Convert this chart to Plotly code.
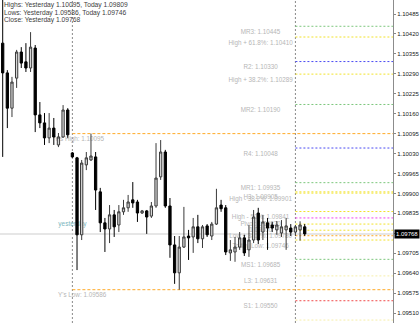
import plotly.graph_objects as go

# ---------------- data ----------------
opens = [1.10390, 1.10293, 1.10178, 1.10276, 1.10361, 1.10329, 1.10309, 1.10374, 1.10156, 1.10130,
         1.10081, 1.10113, 1.10058, 1.10084, 1.10172, 1.10032, 1.10016, 1.09765, 1.09993, 1.10009,
         1.10019, 1.09905, 1.09804, 1.09784, 1.09830, 1.09797, 1.09840, 1.09853, 1.09879, 1.09872,
         1.09836, 1.09843, 1.09826, 1.09859, 1.09954, 1.10035, 1.09859, 1.09732, 1.09641, 1.09725,
         1.09761, 1.09758, 1.09791, 1.09752, 1.09794, 1.09761, 1.09800, 1.09862, 1.09853, 1.09706,
         1.09709, 1.09725, 1.09755, 1.09716, 1.09748, 1.09836, 1.09774, 1.09804, 1.09797, 1.09781,
         1.09771, 1.09781, 1.09787, 1.09774, 1.09781, 1.09791]
highs = [1.10563, 1.10302, 1.10280, 1.10368, 1.10377, 1.10390, 1.10426, 1.10384, 1.10198, 1.10162,
         1.10162, 1.10146, 1.10097, 1.10188, 1.10178, 1.10035, 1.10019, 1.10009, 1.10035, 1.10095,
         1.10035, 1.09918, 1.09820, 1.09862, 1.09846, 1.09862, 1.09879, 1.09895, 1.09937, 1.09879,
         1.09846, 1.09846, 1.09872, 1.10064, 1.10074, 1.10042, 1.09885, 1.09761, 1.09761, 1.09856,
         1.09781, 1.09820, 1.09830, 1.09797, 1.09800, 1.09807, 1.09915, 1.09879, 1.09862, 1.09748,
         1.09758, 1.09774, 1.09765, 1.09797, 1.09846, 1.09853, 1.09830, 1.09820, 1.09807, 1.09810,
         1.09813, 1.09820, 1.09800, 1.09797, 1.09809, 1.09800]
lows = [1.10019, 1.10113, 1.10149, 1.10244, 1.10309, 1.10296, 1.10296, 1.10100, 1.10113, 1.10058,
        1.10064, 1.10058, 1.10051, 1.10081, 1.10081, 1.10016, 1.09650, 1.09748, 1.09976, 1.10006,
        1.09846, 1.09774, 1.09709, 1.09738, 1.09758, 1.09774, 1.09830, 1.09840, 1.09853, 1.09807,
        1.09833, 1.09768, 1.09820, 1.09853, 1.09944, 1.09853, 1.09690, 1.09605, 1.09586, 1.09722,
        1.09683, 1.09706, 1.09738, 1.09722, 1.09758, 1.09748, 1.09797, 1.09840, 1.09699, 1.09680,
        1.09677, 1.09716, 1.09696, 1.09693, 1.09738, 1.09735, 1.09748, 1.09716, 1.09774, 1.09765,
        1.09758, 1.09716, 1.09761, 1.09761, 1.09746, 1.09761]
closes = [1.10293, 1.10178, 1.10263, 1.10361, 1.10325, 1.10309, 1.10377, 1.10156, 1.10130, 1.10081,
          1.10113, 1.10084, 1.10084, 1.10172, 1.10091, 1.10019, 1.09765, 1.09999, 1.10016, 1.10022,
          1.09911, 1.09804, 1.09784, 1.09830, 1.09791, 1.09840, 1.09853, 1.09872, 1.09869, 1.09836,
          1.09843, 1.09823, 1.09859, 1.09950, 1.10035, 1.09859, 1.09732, 1.09641, 1.09725, 1.09758,
          1.09755, 1.09791, 1.09752, 1.09791, 1.09765, 1.09800, 1.09853, 1.09850, 1.09709, 1.09716,
          1.09725, 1.09755, 1.09706, 1.09748, 1.09823, 1.09748, 1.09807, 1.09787, 1.09787, 1.09797,
          1.09791, 1.09794, 1.09774, 1.09791, 1.09797, 1.09768]

day_starts = [15, 63]          # bar index where yesterday / today begin

level_labels = ["MR3: 1.10445", "High + 61.8%: 1.10410", "R2: 1.10330", "High + 38.2%: 1.10289",
                "MR2: 1.10190", "R4: 1.10048", "MR1: 1.09935", "High - 38.2%: 1.09901",
                "H3: 1.09905", "High - 50%: 1.09841", "Pivot: 1.09820", "1.09800",
                "Low + 38.2%: 1.09780", "Today Low: 1.09746", "MS1: 1.09685", "L3: 1.09631",
                "S1: 1.09550", "L4: 1.09487"]
level_values = [1.10445, 1.10410, 1.10330, 1.10289, 1.10190, 1.10048, 1.09935, 1.09901,
                1.09905, 1.09841, 1.09820, 1.09800, 1.09780, 1.09748, 1.09685, 1.09631,
                1.09550, 1.09487]
level_kinds = ["mid", "fib", "pivot", "fib", "mid", "pivot", "mid", "fib",
               "fib", "fib", "pp", "fib", "fib", "fib", "mid", "cam", "sup", "cam"]
extra_level_values = [1.09762]

y_high = 1.10095
y_low = 1.09586
y_close = 1.09768
last_price = 1.09768

tick_values = [1.09510, 1.09575, 1.09640, 1.09705, 1.09770, 1.09835, 1.09900, 1.09965,
               1.10030, 1.10095, 1.10160, 1.10225, 1.10290, 1.10355, 1.10420, 1.10485]

header_lines = ["Highs: Yesterday 1.10095, Today 1.09809",
                "Lows: Yesterday 1.09586, Today 1.09746",
                "Close: Yesterday 1.09768"]

# ---------------- styling ----------------
FONT = "Liberation Sans, Arial, sans-serif"
kind_color = {"mid": "#7cc67c", "fib": "#f2e22a", "pivot": "#4a4af2", "pp": "#f040f0",
              "cam": "#f6eea8", "sup": "#f04848"}
ORANGE = "#ffaa28"
XR = [-0.578, 84.0]
YR = [1.094774, 1.105307]

idx = list(range(len(opens)))

fig = go.Figure()

label_marker = dict(size=3, opacity=0)
# labels (base subplot, drawn beneath the candles)
fig.add_trace(go.Scatter(
    x=[55.5] * len(level_labels), y=level_values, mode="markers+text", text=level_labels,
    textposition="bottom center", marker=label_marker,
    textfont=dict(size=6.3, color="#b6b6b6", family=FONT),
    hoverinfo="skip", showlegend=False))
fig.add_trace(go.Scatter(
    x=[16.5, 17.1], y=[y_high, y_low], mode="markers+text",
    text=["Y's High: %.5f" % y_high, "Y's Low: %.5f" % y_low],
    textposition="bottom center", marker=label_marker,
    textfont=dict(size=6.3, color="#b6b6b6", family=FONT),
    hoverinfo="skip", showlegend=False))
fig.add_trace(go.Scatter(
    x=[day_starts[0]], y=[y_close], mode="markers+text", text=["yesterday"],
    textposition="top center", marker=dict(size=8, opacity=0),
    textfont=dict(size=6.5, color="#7ab6be", family=FONT),
    hoverinfo="skip", showlegend=False))

# candles on overlay subplot (drawn above labels)
fig.add_trace(go.Candlestick(
    x=idx, open=opens, high=highs, low=lows, close=closes,
    xaxis="x2", yaxis="y2",
    increasing=dict(line=dict(color="#3a3a3a", width=1), fillcolor="#d6d6d6"),
    decreasing=dict(line=dict(color="#000000", width=1), fillcolor="#000000"),
    whiskerwidth=0, showlegend=False, hoverinfo="skip"))

shapes = []
# current price line
shapes.append(dict(type="line", xref="x", yref="y", x0=XR[0], x1=XR[1], y0=last_price, y1=last_price,
                   line=dict(color="#dedede", width=1.5), layer="below"))
# day separators
for d in day_starts:
    shapes.append(dict(type="line", xref="x", yref="paper", x0=d, x1=d, y0=0, y1=1,
                       line=dict(color="#8a8a8a", width=1, dash="2px,2px"), layer="below"))
# yesterday high / low
for v in (y_high, y_low):
    shapes.append(dict(type="line", xref="x", yref="y", x0=day_starts[0], x1=XR[1], y0=v, y1=v,
                       line=dict(color=ORANGE, width=1, dash="3px,2px"), layer="below"))
# pivot / fib / camarilla levels
for v, k in zip(level_values, level_kinds):
    shapes.append(dict(type="line", xref="x", yref="y", x0=day_starts[1], x1=XR[1], y0=v, y1=v,
                       line=dict(color=kind_color[k], width=1, dash="2px,2px"), layer="below"))
for v in extra_level_values:
    shapes.append(dict(type="line", xref="x", yref="y", x0=day_starts[1], x1=XR[1], y0=v, y1=v,
                       line=dict(color=ORANGE, width=1, dash="2px,2px"), layer="below"))

annotations = []
for i, t in enumerate(header_lines):
    annotations.append(dict(xref="paper", yref="paper", x=0, y=1 - (5 + 7.6 * i) / 323.0,
                            xanchor="left", yanchor="middle", xshift=2, showarrow=False, text=t,
                            font=dict(size=6.7, color="#404040", family=FONT)))
annotations.append(dict(xref="paper", yref="y", x=1, y=last_price, xanchor="left", yanchor="middle",
                        xshift=1, showarrow=False, text="%.5f" % last_price, bgcolor="#000000",
                        borderpad=1, font=dict(size=6, color="#ffffff", family=FONT)))

fig.update_layout(
    width=420, height=323, margin=dict(l=0, r=25, t=0, b=0),
    paper_bgcolor="white", plot_bgcolor="white",
    shapes=shapes, annotations=annotations, showlegend=False,
    xaxis=dict(range=XR, visible=False, showgrid=False, zeroline=False, fixedrange=True),
    xaxis2=dict(range=XR, overlaying="x", visible=False, showgrid=False, zeroline=False,
                rangeslider=dict(visible=False)),
    yaxis=dict(range=YR, side="right", tickmode="array", tickvals=tick_values,
               ticktext=["%.5f" % v for v in tick_values], showgrid=False, zeroline=False,
               ticks="outside", ticklen=2, tickcolor="#888888", showline=True,
               linecolor="#8c8c8c", linewidth=1,
               tickfont=dict(size=6, color="#202020", family=FONT)),
    yaxis2=dict(range=YR, overlaying="y", visible=False, showgrid=False, zeroline=False),
)

fig.write_html("out.html")
